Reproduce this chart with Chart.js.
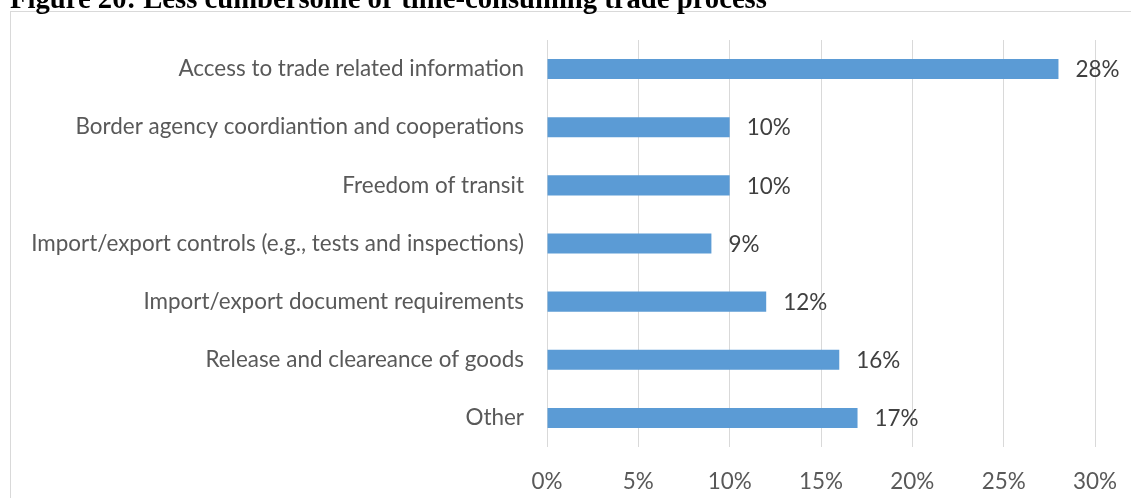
<!DOCTYPE html>
<html><head><meta charset="utf-8">
<script src="https://cdn.jsdelivr.net/npm/chart.js@4.4.1/dist/chart.umd.min.js"></script>
<style>
html,body{margin:0;padding:0;background:#fff;overflow:hidden;width:1131px;height:498px;}
#frame{position:absolute;left:10px;top:11px;width:1200px;height:600px;border-top:1px solid #d9d9d9;border-left:1px solid #d9d9d9;}
#title{position:absolute;left:10px;top:0;white-space:nowrap;font-family:"Liberation Serif",serif;font-weight:bold;color:#000;}
canvas{position:absolute;left:0;top:0;}
</style></head><body>
<div id="frame"></div>
<canvas id="c" width="1131" height="498"></canvas>
<div id="title">Figure 20: Less cumbersome or time-consuming trade process</div>
<script>
const categories = [
  "Access to trade related information",
  "Border agency coordiantion and cooperations",
  "Freedom of transit",
  "Import/export controls (e.g., tests and inspections)",
  "Import/export document requirements",
  "Release and cleareance of goods",
  "Other"
];
const values = [28, 10, 10, 9, 12, 16, 17];
const tickValues = [0, 5, 10, 15, 20, 25, 30];
const tickSuffix = "%";

const LABEL_FAMILY = "Lato";
const TITLE_FAMILY = "Liberation Serif";

function fitSize(text, family, weight, target) {
  const ctx = document.createElement("canvas").getContext("2d");
  ctx.font = weight + " 100px \"" + family + "\"";
  const w = ctx.measureText(text).width;
  return 100 * target / w;
}

Promise.all([
  document.fonts.load("19px \"" + LABEL_FAMILY + "\""),
  document.fonts.load("bold 24px \"" + TITLE_FAMILY + "\"")
]).catch(()=>{}).then(() => {
  const tEl = document.getElementById("title");
  const tSize = fitSize(tEl.textContent, TITLE_FAMILY, "bold", 758);
  const mctx = document.createElement("canvas").getContext("2d");
  mctx.font = "bold " + tSize + "px \"" + TITLE_FAMILY + "\"";
  const m = mctx.measureText(tEl.textContent);
  const A = m.fontBoundingBoxAscent, D = m.fontBoundingBoxDescent;
  tEl.style.fontSize = tSize + "px";
  tEl.style.lineHeight = tSize + "px";
  const baseOff = (tSize - (A + D)) / 2 + A;
  tEl.style.top = (8 - baseOff) + "px";

  const fs = fitSize(categories[3], LABEL_FAMILY, "normal", 493);
  const font = { family: LABEL_FAMILY, size: fs };

  const dataLabels = {
    id: "dataLabels",
    afterDatasetsDraw(chart) {
      const ctx = chart.ctx;
      const meta = chart.getDatasetMeta(0);
      ctx.save();
      ctx.font = fs + "px \"" + LABEL_FAMILY + "\"";
      ctx.fillStyle = "#404040";
      ctx.textAlign = "left";
      ctx.textBaseline = "middle";
      meta.data.forEach((el, i) => {
        ctx.fillText(values[i] + tickSuffix, el.x + 17, el.y + 1);
      });
      ctx.restore();
    }
  };

  new Chart(document.getElementById("c"), {
    type: "bar",
    data: {
      labels: categories,
      datasets: [{
        data: values,
        backgroundColor: "#5B9BD5",
        borderWidth: 0,
        categoryPercentage: 1,
        barPercentage: 0.345
      }]
    },
    options: {
      indexAxis: "y",
      responsive: false,
      devicePixelRatio: 1,
      animation: false,
      layout: { padding: { left: 0, right: 36, top: 40, bottom: 0 } },
      plugins: { legend: { display: false }, tooltip: { enabled: false } },
      scales: {
        x: {
          min: tickValues[0],
          max: tickValues[tickValues.length - 1],
          afterBuildTicks(scale) { scale.ticks = tickValues.map(v => ({ value: v })); },
          afterFit(scale) { scale.height = 51; scale.paddingLeft = 0; scale.paddingRight = 0; },
          grid: { color: "#d9d9d9", lineWidth: 1, drawTicks: false },
          border: { display: false },
          ticks: {
            padding: 21,
            color: "#595959",
            font: font,
            callback: (v) => v + tickSuffix
          }
        },
        y: {
          afterFit(scale) { scale.width = 547; },
          grid: { display: false, drawTicks: false },
          border: { display: false },
          ticks: { padding: 23, color: "#595959", font: font, autoSkip: false }
        }
      }
    },
    plugins: [dataLabels]
  });
});
</script>
</body></html>
